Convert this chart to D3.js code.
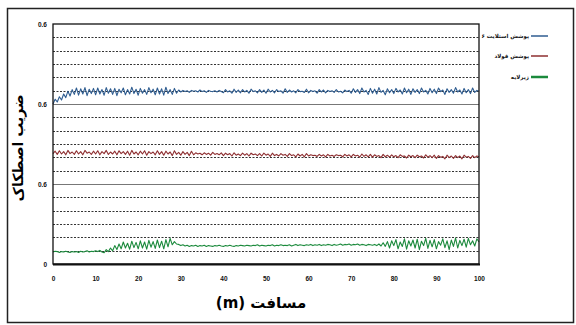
<!DOCTYPE html>
<html><head><meta charset="utf-8">
<script src="https://cdn.jsdelivr.net/npm/d3@7/dist/d3.min.js"></script>
<style>body{margin:0;background:#fff}svg{display:block}</style>
</head><body>
<svg id="c" width="576" height="325"></svg>
<script>
// distance (m), step 0.5
const seriesNames = ["پوشش استلایت ۶", "پوشش فولاد", "زیرلایه"];
const seriesColors = ["#2f5d91", "#8e2f31", "#1b8a3c"];
const yTickValues = [0, 0.2, 0.4, 0.6];
const yTickLabels = ["0", "0.6", "0.6", "0.6"];
const xTickValues = [0,10,20,30,40,50,60,70,80,90,100];

const stellite = [
.400,.412,.405,.418,.410,.425,.416,.432,.420,.436,
.424,.440,.422,.438,.425,.441,.421,.437,.426,.439,
.423,.440,.425,.436,.422,.441,.427,.438,.424,.439,
.421,.437,.428,.440,.423,.436,.425,.442,.426,.437,
.422,.439,.427,.436,.424,.441,.428,.437,.423,.440,
.425,.438,.422,.442,.426,.436,.424,.439,.427,.435,
.430,.434,.431,.433,.429,.434,.432,.433,.430,.435,
.431,.433,.429,.434,.432,.431,.433,.430,.434,.431,
.428,.436,.430,.433,.427,.437,.429,.435,.428,.436,
.430,.434,.427,.437,.431,.433,.428,.436,.429,.435,
.427,.437,.430,.434,.428,.436,.431,.433,.427,.438,
.429,.435,.430,.433,.428,.436,.431,.432,.429,.437,
.428,.434,.431,.433,.427,.436,.430,.435,.428,.434,
.431,.433,.429,.436,.430,.432,.428,.435,.431,.434,
.427,.438,.429,.436,.426,.440,.430,.434,.424,.439,
.427,.437,.425,.441,.429,.434,.423,.438,.428,.436,
.426,.439,.430,.435,.425,.440,.428,.437,.424,.438,
.429,.436,.426,.440,.430,.434,.425,.439,.428,.437,
.426,.440,.431,.435,.424,.438,.429,.436,.427,.441,
.430,.435,.425,.439,.428,.436,.426,.440,.429,.434,
.432];
const steel = [
.276,.282,.274,.283,.275,.281,.273,.284,.276,.280,
.274,.283,.275,.281,.273,.284,.277,.280,.274,.282,
.275,.283,.273,.281,.276,.284,.274,.280,.275,.282,
.273,.283,.276,.281,.274,.282,.272,.284,.275,.280,
.273,.282,.275,.283,.272,.281,.276,.280,.273,.283,
.274,.281,.272,.282,.275,.280,.271,.283,.274,.279,
.272,.281,.274,.279,.271,.282,.273,.278,.275,.277,
.273,.278,.274,.277,.272,.279,.274,.276,.273,.278,
.271,.277,.273,.276,.270,.278,.272,.275,.271,.277,
.272,.276,.270,.277,.273,.275,.271,.276,.270,.277,
.272,.275,.269,.277,.271,.274,.270,.276,.272,.274,
.269,.276,.271,.273,.268,.275,.270,.274,.268,.276,
.270,.273,.271,.272,.269,.274,.270,.273,.268,.274,
.270,.272,.269,.273,.271,.272,.268,.274,.270,.273,
.268,.274,.270,.272,.267,.275,.269,.273,.268,.274,
.267,.273,.269,.271,.266,.274,.268,.272,.267,.273,
.268,.271,.266,.273,.269,.270,.265,.272,.268,.271,
.266,.272,.268,.270,.265,.273,.267,.271,.266,.272,
.264,.271,.267,.269,.263,.272,.266,.270,.264,.271,
.266,.270,.263,.272,.267,.269,.264,.271,.266,.270,
.268];
const substrate = [
.030,.032,.031,.029,.031,.030,.032,.030,.029,.031,
.030,.031,.029,.032,.030,.031,.033,.030,.032,.031,
.033,.031,.034,.030,.028,.036,.031,.040,.033,.046,
.036,.050,.038,.055,.040,.052,.037,.057,.041,.054,
.038,.058,.040,.055,.037,.059,.042,.056,.039,.060,
.041,.057,.038,.061,.043,.064,.048,.056,.050,.049,
.046,.048,.045,.047,.044,.046,.045,.047,.044,.046,
.045,.047,.044,.046,.045,.044,.046,.045,.047,.045,
.044,.046,.045,.047,.045,.044,.046,.045,.047,.046,
.045,.047,.046,.045,.047,.046,.048,.045,.047,.046,
.045,.047,.046,.048,.045,.047,.046,.048,.046,.047,
.046,.048,.045,.047,.049,.046,.048,.047,.046,.048,
.047,.049,.046,.048,.047,.049,.046,.048,.047,.049,
.048,.046,.049,.047,.048,.050,.047,.049,.048,.050,
.047,.049,.048,.050,.047,.049,.048,.046,.049,.048,
.047,.049,.046,.050,.045,.053,.044,.056,.040,.058,
.046,.061,.038,.055,.044,.063,.037,.058,.045,.060,
.040,.062,.036,.057,.046,.064,.039,.059,.043,.061,
.038,.056,.047,.063,.041,.058,.036,.060,.044,.065,
.040,.059,.046,.062,.042,.064,.048,.058,.045,.063,
.055];
const allSeries = [stellite, steel, substrate];

const svg = d3.select("#c");
const L = 53, R = 479, T = 24, B = 264;
const x = d3.scaleLinear().domain([0,100]).range([L,R]);
const y = d3.scaleLinear().domain([0,0.6]).range([B,T]);

// outer frame
svg.append("rect").attr("x",7.5).attr("y",8.5).attr("width",566).attr("height",314)
  .attr("fill","none").attr("stroke","#222").attr("stroke-width",1.5);

// minor dashed gridlines
const minor = d3.range(1,18).map(i => i*0.6/18).filter(v => Math.abs(v-0.2)>1e-6 && Math.abs(v-0.4)>1e-6);
svg.append("g").selectAll("line").data(minor).join("line")
  .attr("x1",L).attr("x2",R).attr("y1",d=>Math.round(y(d))+0.5).attr("y2",d=>Math.round(y(d))+0.5)
  .attr("stroke","#333").attr("stroke-width",1.2).attr("stroke-dasharray","2,1.5");
// major gridlines
svg.append("g").selectAll("line").data([0.2,0.4]).join("line")
  .attr("x1",L).attr("x2",R).attr("y1",d=>Math.round(y(d))+0.5).attr("y2",d=>Math.round(y(d))+0.5)
  .attr("stroke","#777").attr("stroke-width",1.2);

// series
const line = d3.line().x((d,i)=>x(i*0.5)).y(d=>y(d));
allSeries.forEach((s,k)=>{
  svg.append("path").datum(s).attr("d",line).attr("fill","none")
    .attr("stroke",seriesColors[k]).attr("stroke-width",1.1).attr("stroke-linejoin","round");
});

// plot border
svg.append("rect").attr("x",L).attr("y",T).attr("width",R-L).attr("height",B-T)
  .attr("fill","none").attr("stroke","#111").attr("stroke-width",1.3);
svg.append("line").attr("x1",L).attr("x2",R+1).attr("y1",B+0.5).attr("y2",B+0.5)
  .attr("stroke","#111").attr("stroke-width",2);

// axes
const yAxis = d3.axisLeft(y).tickValues(yTickValues).tickSize(0).tickPadding(6)
  .tickFormat((d,i)=>yTickLabels[i]);
const gy = svg.append("g").attr("transform",`translate(${L},0)`).call(yAxis);
gy.select(".domain").remove();
gy.selectAll("text").attr("font-family","Liberation Sans, Arial").attr("font-size",6.5)
  .attr("font-weight","bold").attr("fill","#111");

const xAxis = d3.axisBottom(x).tickValues(xTickValues).tickSize(0).tickPadding(12);
const gx = svg.append("g").attr("transform",`translate(0,${B})`).call(xAxis);
gx.select(".domain").remove();
gx.selectAll("text").attr("font-family","Liberation Sans, Arial").attr("font-size",6.5)
  .attr("font-weight","bold").attr("fill","#111");

// axis titles
svg.append("text").attr("x",261).attr("y",308).attr("text-anchor","middle")
  .attr("direction","rtl").attr("font-family","DejaVu Sans").attr("font-weight","bold")
  .attr("font-size",15).attr("fill","#000").text("مسافت (m)");
svg.append("text").attr("transform","translate(23,148) rotate(-90)").attr("text-anchor","middle")
  .attr("direction","rtl").attr("font-family","DejaVu Sans").attr("font-weight","bold")
  .attr("font-size",14).attr("fill","#000").text("ضریب اصطکاک");

// legend
const lg = svg.append("g");
const legY = [36, 56, 77];
seriesNames.forEach((n,k)=>{
  lg.append("line").attr("x1",531).attr("x2",548).attr("y1",legY[k]).attr("y2",legY[k])
    .attr("stroke",seriesColors[k]).attr("stroke-width",k===2?2.5:1.5);
  lg.append("text").attr("x",529).attr("y",legY[k]+2).attr("text-anchor","end")
    .attr("font-family","DejaVu Sans").attr("font-weight","bold").attr("font-size",5.5)
    .attr("fill","#111").text(n);
});
</script>
</body></html>
